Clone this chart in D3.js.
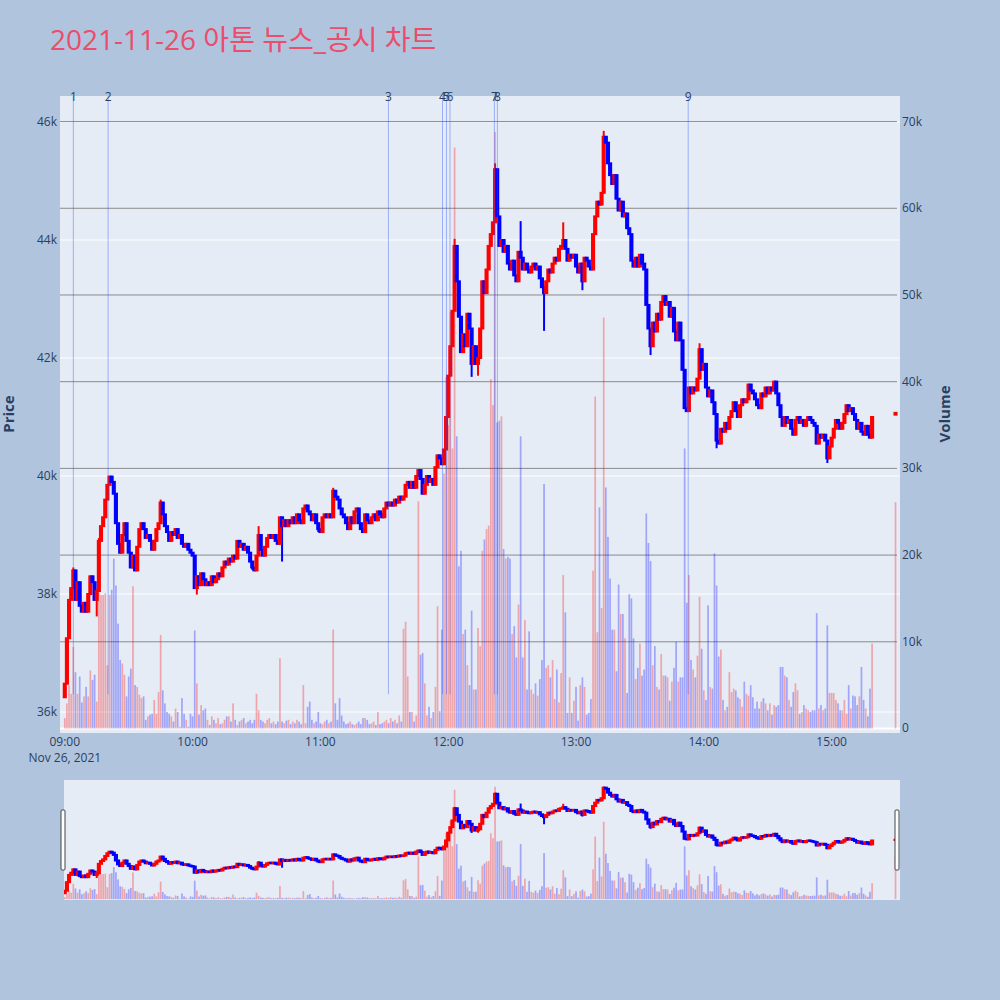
<!DOCTYPE html>
<html><head><meta charset="utf-8">
<script src="https://cdn.jsdelivr.net/npm/d3@7"></script>
<style>body{margin:0;background:#b0c4de;} svg{display:block}</style>
</head><body><svg id="c" width="1000" height="1000"></svg>
<script>
// ---------------- DATA ----------------
const chartTitle = "2021-11-26 아톤 뉴스_공시 차트";
const sessionStart = "09:00";          // first 1-minute candle
const firstOpen = 36250;
// 1-minute closes 09:00 .. 15:19
const closes = [
 36480,37250,37900,38100,38400,37900,38200,37800,37700,37850, // 09:00
 37700,38000,38300,38200,37900,38050,38900,39150,39300,39600, // 09:10
 39850,39990,39900,39700,39200,38850,38700,39000,39200,38900, // 09:20
 38700,38450,38650,38400,38800,39100,39200,39100,38950,39000, // 09:30
 38900,38750,38900,39100,39200,39550,39350,39150,39050,38900, // 09:40
 39050,39000,39100,38950,39000,38850,38800,38850,38750,38700, // 09:50
 38650,38100,38300,38150,38350,38250,38150,38200,38150,38300, // 10:00
 38200,38250,38350,38300,38450,38550,38500,38600,38550,38650, // 10:10
 38600,38900,38800,38850,38750,38800,38700,38550,38450,38400, // 10:20
 38650,39000,38750,38650,38800,38950,39000,38950,39000,38900, // 10:30
 38850,39300,39150,39250,39150,39250,39200,39300,39200,39350, // 10:40
 39250,39200,39450,39500,39400,39350,39250,39350,39200,39100, // 10:50
 39050,39300,39350,39300,39350,39300,39750,39650,39600,39450, // 11:00
 39350,39300,39200,39100,39300,39200,39400,39450,39200,39100, // 11:10
 39050,39350,39250,39200,39300,39350,39250,39400,39350,39300, // 11:20
 39450,39550,39500,39550,39500,39600,39550,39650,39600,39650, // 11:30
 39850,39900,39800,39900,39800,40000,40100,39950,39700,39850, // 11:40
 40000,39900,39950,39850,40150,40350,40300,40200,40450,41000, // 11:50
 41700,42200,42800,43900,43300,42700,42100,42400,42200,42750, // 12:00
 42500,41900,42200,41900,42000,42500,43300,43100,43500,43900, // 12:10
 44100,44300,45200,44400,43900,44000,43800,43900,43600,43500, // 12:20
 43650,43400,43300,43800,43700,43500,43600,43500,43450,43550, // 12:30
 43600,43500,43550,43350,43200,43100,43300,43500,43450,43600, // 12:40
 43700,43650,43850,43900,44000,43850,43650,43750,43700,43750, // 12:50
 43550,43450,43600,43300,43700,43650,43550,43500,44100,44400, // 13:00
 44650,44600,44800,45750,45650,45300,45100,44950,45100,44700, // 13:10
 44500,44650,44400,44450,44200,44100,43650,43550,43700,43550, // 13:20
 43750,43600,43500,42900,42500,42200,42600,42450,42750,42650, // 13:30
 42950,43050,42900,42950,42700,42850,42450,42300,42600,42300, // 13:40
 41800,41150,41100,41500,41400,41500,41450,41650,42150,41800, // 13:50
 41900,41500,41350,41450,41250,41050,40600,40550,40800,40750, // 14:00
 40900,40800,41000,41100,41250,41100,41000,41200,41300,41250, // 14:10
 41300,41550,41450,41400,41300,41200,41150,41400,41350,41500, // 14:20
 41400,41500,41450,41600,41400,41200,41000,40850,41000,40900, // 14:30
 40950,40800,40700,40950,41000,40900,40950,40850,40950,41000, // 14:40
 40950,40900,40850,40550,40700,40650,40700,40600,40300,40500, // 14:50
 40650,40800,40950,40900,40800,40900,41050,41200,41100,41150, // 15:00
 41050,40950,40800,40900,40750,40700,40850,40700,40650,41000  // 15:10
];
// 1-minute volumes 09:00 .. 15:19
const volumes = [
 1200,2900,5000,4000,9400,6500,4000,6000,3000,3700,
 4800,3700,6700,5600,6200,3100,15600,15400,15400,15600,
 7300,15400,16000,19600,16500,12100,7900,7500,6200,3700,
 6000,6900,16400,5000,4800,3900,3500,3700,1000,1400,
 1600,1700,3300,1700,4200,10800,4400,2900,1900,1700,
 1400,800,2300,1900,200,3500,1700,1000,200,1700,
 1400,11300,5200,1600,2700,2100,2300,1000,400,1400,
 1000,600,1200,500,600,1000,1400,1400,800,2900,
 1000,400,800,1000,1200,600,800,1000,600,1000,
 4000,2100,1000,800,600,1000,1200,600,800,500,
 800,8100,800,600,900,1000,500,800,600,1000,
 800,500,5000,600,2500,3100,1000,600,800,1900,
 600,500,800,1000,600,800,11400,2900,1000,3500,
 1500,800,500,600,800,500,400,600,800,500,
 1200,1200,1000,500,600,800,400,1900,500,600,
 800,1000,600,1200,800,1000,600,1500,800,11500,
 12300,6000,1900,1900,800,1500,26200,8500,8700,5200,
 1500,2500,1200,1900,4800,14100,2000,11400,29400,40500,
 35000,48000,32300,67000,33700,18700,20500,10900,11400,7300,
 5000,13600,4500,4500,11600,9500,20500,21800,23000,23400,
 40300,37300,68800,35300,35500,36000,20700,19600,19800,19600,
 10900,11800,8200,14300,33700,8200,12500,4500,11200,4500,
 4000,5200,3800,5700,7900,28200,7000,7300,5900,7900,
 3400,6800,3000,6400,17700,13400,1800,5900,1800,3200,
 4800,900,5000,5900,4800,1600,1800,3400,18200,38300,
 11100,25500,13900,47400,27800,22100,17300,11400,11400,6600,
 16600,13200,13200,10400,4100,15500,15000,10400,5700,7000,
 9800,6100,6800,24800,21400,19300,7300,9500,4800,4500,
 8600,6100,6100,5900,3200,5400,7000,10000,5400,5900,
 5900,32300,14500,17700,7900,6800,5900,8400,15200,9200,
 4400,3300,14200,4800,4600,20200,16500,8300,9100,3300,
 2100,2500,6500,4200,4600,4400,3600,3400,2500,5400,
 4000,3800,5000,3600,2300,3100,2300,3100,3500,2900,
 2100,2900,1600,2700,2500,2700,7100,7100,6100,5900,
 3300,2500,4200,5200,4400,1700,1900,2700,2300,2100,
 1900,2100,2100,13300,2300,2700,2100,2300,11900,4100,
 4100,4100,3300,2900,2100,2100,3300,1700,5000,2300,
 3800,3700,2700,3700,7100,3300,2300,1400,4600,9800
];
// wick extremes [minute index, price]
const highWicks = [[4,38450],[16,38950],[45,39600],[91,39150],[126,39800],[183,44020],[202,45300],[214,44320],[234,44300],[253,45850],[298,42250]];
const lowWicks  = [[15,37620],[62,37990],[88,38410],[102,38550],[119,39050],[191,41680],[194,41700],[225,42460],[243,43150],[275,42050],[306,40470],[358,40220]];
// closing auction candle
const auctionTime = "15:30";
const auctionOpen = 41040, auctionClose = 41070, auctionVolume = 26100;
// news / disclosure markers
const newsLabels = ["1","2","3","4","5","6","7","8","9"];
const newsTimes  = ["09:04:00","09:20:20","11:31:55","11:57:20","11:59:10","12:00:50","12:21:40","12:23:05","13:52:40"];
const newsLineBottomPrice = 36300;
// axes
const priceTicks = [36000,38000,40000,42000,44000,46000];
const volumeTicks = [0,10000,20000,30000,40000,50000,60000,70000];
const timeTicks = ["09:00","10:00","11:00","12:00","13:00","14:00","15:00"];
const dateLabel = "Nov 26, 2021";
const priceRange = [35644, 46441];
const volumeRange = [-520, 72950];
const timeRange = ["08:57:45","15:32:06"];

// ---------------- CHART ----------------
const svg = d3.select("#c");
const font = "'Open Sans', 'Noto Sans CJK KR', sans-serif";
const txtCol = "#2a3f5f";
const L=60, R=900, T=96, B=733;
const sT=780, sB=900, sL=64, sR=900;
const pt = d3.timeParse("%Y-%m-%d %H:%M:%S");
const tm = s => pt("2021-11-26 " + (s.length===5 ? s+":00" : s));

svg.append("rect").attr("width",1000).attr("height",1000).attr("fill","#b0c4de");

const x = d3.scaleTime().domain(timeRange.map(tm)).range([L,R]);
const yP = d3.scaleLinear().domain(priceRange).range([B,T]);
const yV = d3.scaleLinear().domain(volumeRange).range([B,T]);
const yPs = d3.scaleLinear().domain(priceRange).range([sB,sT]);
const yVs = d3.scaleLinear().domain(volumeRange).range([sB,sT]);

const t0 = tm(sessionStart);
const candles = closes.map((c,i)=>{
  const o = i===0 ? firstOpen : closes[i-1];
  return {time:d3.timeMinute.offset(t0,i), o, c, h:Math.max(o,c), l:Math.min(o,c), v:volumes[i]};
});
highWicks.forEach(([i,p])=>{candles[i].h=Math.max(candles[i].h,p);});
lowWicks.forEach(([i,p])=>{candles[i].l=Math.min(candles[i].l,p);});
candles.push({time:tm(auctionTime), o:auctionOpen, c:auctionClose, h:Math.max(auctionOpen,auctionClose), l:Math.min(auctionOpen,auctionClose), v:auctionVolume});
const up = d => d.c > d.o;

// title
svg.append("text").attr("x",50).attr("y",50).attr("font-family",font).attr("font-size",28)
  .attr("fill","#eb4d6b").text(chartTitle);

// plot background
svg.append("rect").attr("x",L).attr("y",T).attr("width",R-L).attr("height",B-T).attr("fill","#e5ecf6");

// price gridlines (white)
svg.append("g").selectAll("line").data(priceTicks).join("line")
  .attr("x1",L).attr("x2",R).attr("y1",d=>yP(d)).attr("y2",d=>yP(d))
  .attr("stroke","#fff").attr("stroke-width",1);
// volume gridlines (grey)
svg.append("g").selectAll("line").data(volumeTicks.filter(v=>v>0)).join("line")
  .attr("x1",L).attr("x2",R-3).attr("y1",d=>yV(d)).attr("y2",d=>yV(d))
  .attr("stroke","#8a8a8a").attr("stroke-width",1);
svg.append("line").attr("x1",L).attr("x2",R).attr("y1",yV(0)).attr("y2",yV(0))
  .attr("stroke","#fff").attr("stroke-width",2);

// clip
const defs = svg.append("defs");
defs.append("clipPath").attr("id","mainClip").append("rect").attr("x",L).attr("y",T).attr("width",R-L).attr("height",B-T);
defs.append("clipPath").attr("id","sliderClip").append("rect").attr("x",sL).attr("y",sT).attr("width",sR-sL).attr("height",sB-sT);

const barW = 1.7, bodyW = 2.1;
function drawSeries(g, ys, yv){
  g.append("g").selectAll("rect").data(candles).join("rect")
    .attr("x",d=>x(d.time)-barW/2).attr("width",barW)
    .attr("y",d=>yv(d.v)).attr("height",d=>yv(0)-yv(d.v))
    .attr("fill",d=>up(d)?"rgba(255,0,0,0.3)":"rgba(0,0,255,0.3)");
  const cg = g.append("g");
  cg.selectAll("line").data(candles).join("line")
    .attr("x1",d=>x(d.time)).attr("x2",d=>x(d.time))
    .attr("y1",d=>ys(d.h)).attr("y2",d=>ys(d.l))
    .attr("stroke",d=>up(d)?"#ff0000":"#0000ff").attr("stroke-width",2);
  cg.selectAll("rect").data(candles).join("rect")
    .attr("x",d=>x(d.time)-bodyW/2).attr("width",bodyW)
    .attr("y",d=>ys(Math.max(d.o,d.c))).attr("height",d=>Math.max(0.3,Math.abs(ys(d.o)-ys(d.c))))
    .attr("fill",d=>up(d)?"#ff0000":"#0000ff")
    .attr("stroke",d=>up(d)?"#ff0000":"#0000ff").attr("stroke-width",2);
}
drawSeries(svg.append("g").attr("clip-path","url(#mainClip)"), yP, yV);

// news marker lines + labels
const news = newsLabels.map((lab,i)=>({lab, time:tm(newsTimes[i])}));
svg.append("g").selectAll("line").data(news).join("line")
  .attr("x1",d=>x(d.time)).attr("x2",d=>x(d.time))
  .attr("y1",T).attr("y2",yP(newsLineBottomPrice))
  .attr("stroke","rgba(40,80,255,0.4)").attr("stroke-width",1);
svg.append("g").selectAll("text").data(news).join("text")
  .attr("x",d=>x(d.time)).attr("y",T+5).attr("text-anchor","middle")
  .attr("font-family",font).attr("font-size",12).attr("fill",txtCol).text(d=>d.lab);

// price tick labels
const fmtK = v => v===0 ? "0" : (v/1000)+"k";
svg.append("g").selectAll("text").data(priceTicks).join("text")
  .attr("x",57).attr("y",d=>yP(d)+4).attr("text-anchor","end")
  .attr("font-family",font).attr("font-size",12).attr("fill",txtCol).text(fmtK);
// volume tick labels
svg.append("g").selectAll("text").data(volumeTicks).join("text")
  .attr("x",902).attr("y",d=>yV(d)+4).attr("text-anchor","start")
  .attr("font-family",font).attr("font-size",12).attr("fill",txtCol).text(fmtK);
// time tick labels
const fmtT = d3.timeFormat("%H:%M");
svg.append("g").selectAll("text").data(timeTicks.map(tm)).join("text")
  .attr("x",d=>x(d)).attr("y",746).attr("text-anchor","middle")
  .attr("font-family",font).attr("font-size",12).attr("fill",txtCol).text(fmtT);
svg.append("text").attr("x",x(tm(timeTicks[0]))).attr("y",762).attr("text-anchor","middle")
  .attr("font-family",font).attr("font-size",12).attr("fill",txtCol).text(dateLabel);

// axis titles
svg.append("text").attr("transform","translate(14,414) rotate(-90)").attr("text-anchor","middle")
  .attr("font-family",font).attr("font-size",15).attr("font-weight","bold").attr("fill",txtCol).text("Price");
svg.append("text").attr("transform","translate(950,414) rotate(-90)").attr("text-anchor","middle")
  .attr("font-family",font).attr("font-size",15).attr("font-weight","bold").attr("fill",txtCol).text("Volume");

// range slider
svg.append("rect").attr("x",sL).attr("y",sT).attr("width",sR-sL).attr("height",sB-sT).attr("fill","#e5ecf6");
drawSeries(svg.append("g").attr("clip-path","url(#sliderClip)"), yPs, yVs);
[61,895].forEach(hx=>{
  svg.append("rect").attr("x",hx).attr("y",810).attr("width",4).attr("height",60).attr("rx",1)
    .attr("fill","#fff").attr("stroke","#444").attr("stroke-width",1);
});
</script></body></html>
